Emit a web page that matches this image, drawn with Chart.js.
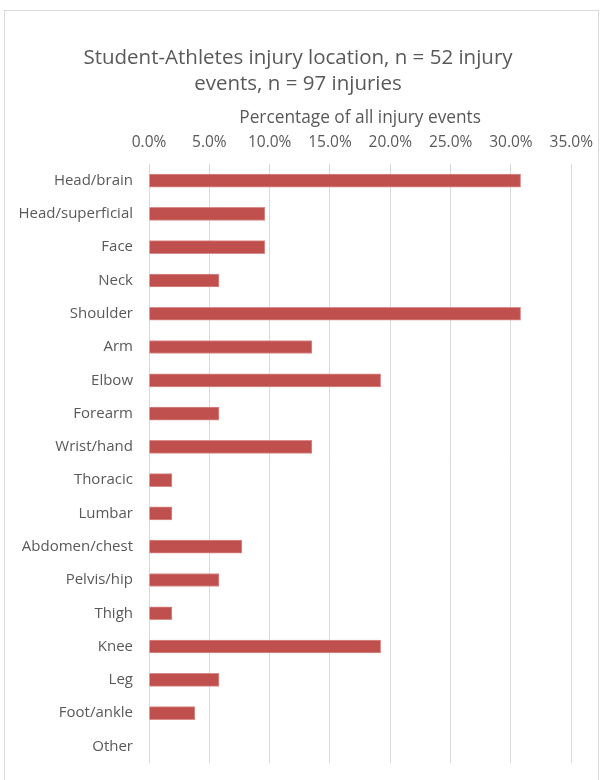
<!DOCTYPE html>
<html>
<head>
<meta charset="utf-8">
<script src="https://cdn.jsdelivr.net/npm/chart.js@4.4.0/dist/chart.umd.min.js"></script>
<style>
  html, body { margin: 0; padding: 0; background: #ffffff; }
  #wrap { position: relative; width: 605px; height: 780px; }
  #frame { position: absolute; left: 4px; top: 10px; width: 595px; height: 780px; border: 1px solid #d9d9d9; box-sizing: border-box; pointer-events: none; }
  canvas { position: absolute; left: 0; top: 0; }
</style>
</head>
<body>
<div id="wrap">
  <canvas id="c" width="605" height="780"></canvas>
  <div id="frame"></div>
</div>
<script>
const categories = ["Head/brain", "Head/superficial", "Face", "Neck", "Shoulder", "Arm", "Elbow", "Forearm", "Wrist/hand", "Thoracic", "Lumbar", "Abdomen/chest", "Pelvis/hip", "Thigh", "Knee", "Leg", "Foot/ankle", "Other"];
const percentValues = [30.8, 9.6, 9.6, 5.8, 30.8, 13.5, 19.2, 5.8, 13.5, 1.9, 1.9, 7.7, 5.8, 1.9, 19.2, 5.8, 3.8, 0];
const titleLines = ["Student-Athletes injury location, n = 52 injury", "events, n = 97 injuries"];
const axisTitle = "Percentage of all injury events";

const font = "'Open Sans', 'Liberation Sans', sans-serif";
const grey = "#595959";

const chartTitlePlugin = {
  id: 'chartTitle',
  afterDraw(chart) {
    const ctx = chart.ctx;
    ctx.save();
    ctx.fillStyle = grey;
    ctx.font = "20.5px " + font;
    ctx.textAlign = 'center';
    ctx.textBaseline = 'middle';
    ctx.fillText(titleLines[0], 298, 58);
    ctx.fillText(titleLines[1], 298, 84);
    ctx.restore();
  }
};

new Chart(document.getElementById('c'), {
  type: 'bar',
  data: {
    labels: categories,
    datasets: [{
      data: percentValues,
      backgroundColor: '#C0504D',
      borderColor: '#D98B89',
      borderWidth: 1,
      barThickness: 13
    }]
  },
  options: {
    indexAxis: 'y',
    responsive: false,
    animation: false,
    devicePixelRatio: 1,
    layout: { padding: { left: 5, right: 30, top: 97, bottom: 12 } },
    plugins: {
      legend: { display: false },
      tooltip: { enabled: false },
      title: { display: false }
    },
    scales: {
      x: {
        position: 'top',
        min: 0,
        max: 35,
        ticks: {
          stepSize: 5,
          color: grey,
          font: { family: font, size: 15.5 },
          padding: 12,
          maxRotation: 0,
          callback: v => v.toFixed(1) + '%'
        },
        grid: { color: '#d9d9d9', drawTicks: false },
        border: { display: false },
        title: {
          display: true,
          text: axisTitle,
          color: grey,
          font: { family: font, size: 17.3 },
          padding: { top: 11, bottom: 0 }
        },
        afterFit: s => { s.height = 67; }
      },
      y: {
        ticks: {
          color: grey,
          font: { family: font, size: 15 },
          padding: 8,
          autoSkip: false
        },
        grid: { display: false },
        border: { display: false },
        afterFit: s => { s.width = 144; }
      }
    }
  },
  plugins: [chartTitlePlugin]
});
</script>
</body>
</html>
